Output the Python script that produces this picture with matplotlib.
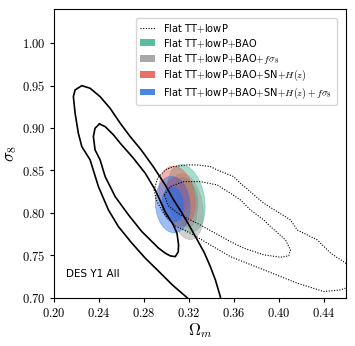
import matplotlib
matplotlib.use("Agg")
import matplotlib.pyplot as plt
import numpy as np
from matplotlib.patches import Ellipse, Patch
from matplotlib.lines import Line2D
from matplotlib.ticker import FuncFormatter

plt.rcParams['mathtext.fontset'] = 'cm'

# DES Y1 All contours (solid black)
des_outer_om = [0.3229, 0.3182, 0.3051, 0.2926, 0.2810, 0.2691, 0.2571, 0.2482, 0.2393,
                0.2319, 0.2245, 0.2214, 0.2185, 0.2170, 0.2185, 0.2245, 0.2319, 0.2408,
                0.2497, 0.2587, 0.2676, 0.2774, 0.2881, 0.2988, 0.3063, 0.3131, 0.3194,
                0.3274, 0.3337, 0.3390, 0.3435, 0.3479, 0.3488]
des_outer_s8 = [0.6937, 0.7000, 0.7150, 0.7315, 0.7465, 0.7642, 0.7837, 0.8034, 0.8309,
                0.8624, 0.8781, 0.8939, 0.9175, 0.9370, 0.9449, 0.9500, 0.9469, 0.9370,
                0.9233, 0.9057, 0.8899, 0.8742, 0.8545, 0.8329, 0.8152, 0.8011, 0.7869,
                0.7680, 0.7527, 0.7366, 0.7209, 0.7012, 0.6910]
des_inner_om = [0.2402, 0.2363, 0.2348, 0.2363, 0.2408, 0.2453, 0.2542, 0.2661, 0.2780,
                0.2929, 0.2988, 0.3033, 0.3078, 0.3104, 0.3107, 0.3093, 0.3060, 0.2988,
                0.2899, 0.2810, 0.2703, 0.2587, 0.2527, 0.2453, 0.2402]
des_inner_s8 = [0.9048, 0.8998, 0.8899, 0.8742, 0.8624, 0.8427, 0.8191, 0.7975, 0.7778,
                0.7583, 0.7524, 0.7492, 0.7483, 0.7539, 0.7621, 0.7759, 0.7858, 0.8011,
                0.8270, 0.8467, 0.8647, 0.8821, 0.8919, 0.9017, 0.9048]

# Flat TT+lowP contours (dotted)
tt_outer_om = [0.2890, 0.2920, 0.2988, 0.3063, 0.3182, 0.3271, 0.3390, 0.3450, 0.3598,
               0.3658, 0.3866, 0.4104, 0.4164, 0.4343, 0.4462, 0.4596, 0.4774, 0.4801,
               0.4596, 0.4551, 0.4402, 0.4164, 0.3866, 0.3569, 0.3212, 0.3078, 0.2971,
               0.2908, 0.2890]
tt_outer_s8 = [0.8270, 0.8408, 0.8506, 0.8545, 0.8565, 0.8565, 0.8545, 0.8506, 0.8427,
               0.8349, 0.8113, 0.7916, 0.7798, 0.7680, 0.7524, 0.7406, 0.7256, 0.7162,
               0.7111, 0.7091, 0.7071, 0.7170, 0.7327, 0.7483, 0.7759, 0.7846, 0.7999,
               0.8152, 0.8270]
tt_inner_om = [0.2980, 0.3033, 0.3152, 0.3301, 0.3450, 0.3569, 0.3658, 0.3747, 0.3866,
               0.3926, 0.4060, 0.4104, 0.4089, 0.4015, 0.3866, 0.3688, 0.3569, 0.3271,
               0.3122, 0.3015, 0.2980]
tt_inner_s8 = [0.8211, 0.8309, 0.8368, 0.8368, 0.8329, 0.8231, 0.8152, 0.8034, 0.7916,
               0.7837, 0.7680, 0.7562, 0.7492, 0.7476, 0.7504, 0.7583, 0.7660, 0.7877,
               0.7975, 0.8081, 0.8211]

# Gaussian constraints: mean, sigma and correlation in (Omega_m, sigma_8)
labels = [r'Flat TT$+$lowP$+$BAO',
          r'Flat TT$+$lowP$+$BAO$+f\sigma_8$',
          r'Flat TT$+$lowP$+$BAO$+$SN$+H(z)$',
          r'Flat TT$+$lowP$+$BAO$+$SN$+H(z)+f\sigma_8$']
colors = ['#3cb48a', '#9a9a9a', '#e8584e', '#2a70e6']
om_mean = [0.3175, 0.3176, 0.3093, 0.3055]
s8_mean = [0.8171, 0.8073, 0.8196, 0.8097]
om_sig = [0.0069, 0.0062, 0.0066, 0.0063]
s8_sig = [0.0162, 0.0159, 0.0145, 0.0136]
rho = [-0.25, -0.24, -0.2, -0.08]

fig = plt.figure(figsize=(3.55, 3.46), dpi=100)
ax = fig.add_axes([0.153, 0.140, 0.822, 0.833])

for i in range(len(labels)):
    cov = np.array([[om_sig[i]**2, rho[i]*om_sig[i]*s8_sig[i]],
                    [rho[i]*om_sig[i]*s8_sig[i], s8_sig[i]**2]])
    vals, vecs = np.linalg.eigh(cov)
    ang = np.degrees(np.arctan2(vecs[1, 1], vecs[0, 1]))
    for k, a in [(2.448, 0.45), (1.515, 0.65)]:
        e = Ellipse((om_mean[i], s8_mean[i]), 2*k*np.sqrt(vals[1]), 2*k*np.sqrt(vals[0]),
                    angle=ang, facecolor=colors[i], edgecolor=colors[i], lw=0.6, alpha=a)
        ax.add_patch(e)

dots = (0, (1, 1.4))
ax.plot(tt_outer_om, tt_outer_s8, ls=dots, color='k', lw=0.8, zorder=5)
ax.plot(tt_inner_om, tt_inner_s8, ls=dots, color='k', lw=0.8, zorder=5)
ax.plot(des_outer_om, des_outer_s8, '-', color='k', lw=1.2, zorder=6)
ax.plot(des_inner_om, des_inner_s8, '-', color='k', lw=1.2, zorder=6)

ax.text(0.2105, 0.724, 'DES Y1 All', fontsize=7.5)

ax.set_xlim(0.20, 0.46)
ax.set_ylim(0.70, 1.04)
ax.set_xticks([0.20, 0.24, 0.28, 0.32, 0.36, 0.40, 0.44])
ax.set_yticks([0.70, 0.75, 0.80, 0.85, 0.90, 0.95, 1.00])
fmt = FuncFormatter(lambda v, p: r'$%.2f$' % v)
ax.xaxis.set_major_formatter(fmt)
ax.yaxis.set_major_formatter(fmt)
ax.tick_params(labelsize=9, length=3, width=0.8)
ax.set_xlabel(r'$\Omega_m$', fontsize=12, labelpad=1)
ax.set_ylabel(r'$\sigma_8$', fontsize=12, labelpad=2)

handles = [Line2D([], [], ls=dots, color='k', lw=0.8)]
for i in range(len(labels)):
    handles.append(Patch(facecolor=colors[i], alpha=0.85))
ax.legend(handles, [r'Flat TT$+$lowP'] + labels, loc='upper right',
          bbox_to_anchor=(0.985, 0.987), fontsize=7.1, handlelength=1.55,
          handletextpad=0.8, labelspacing=0.22, borderpad=0.45)

fig.savefig('out.png', dpi=100)
